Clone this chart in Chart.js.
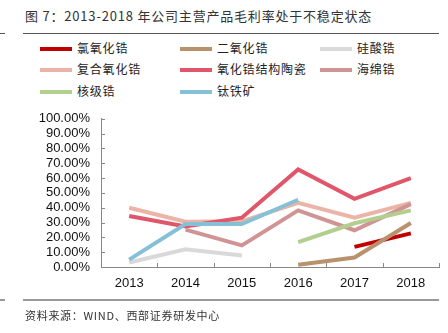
<!DOCTYPE html>
<html>
<head>
<meta charset="utf-8">
<script src="https://cdn.jsdelivr.net/npm/chart.js@4/dist/chart.umd.min.js"></script>
<style>
  html, body { margin: 0; padding: 0; background: #fff; }
  body { width: 448px; height: 333px; position: relative; overflow: hidden; font-family: "Noto Sans CJK SC", sans-serif; }
  .title { position: absolute; left: 25px; top: 6px; font-size: 13px; letter-spacing: 0.8px; color: #333; white-space: nowrap; }
  .rule { position: absolute; height: 0; }
  .lg-line { position: absolute; width: 32px; height: 4px; }
  .lg-text { position: absolute; font-size: 12px; letter-spacing: 0.8px; color: #222; white-space: nowrap; line-height: 14px; }
  .source { position: absolute; left: 25px; top: 307px; font-size: 11px; letter-spacing: 0.7px; color: #333; white-space: nowrap; }
  #wrap { position: absolute; left: 0; top: 100px; width: 448px; height: 200px; }
</style>
</head>
<body>
<div class="title">图 7：2013-2018 年公司主营产品毛利率处于不稳定状态</div>
<div class="rule" style="left:0;top:33px;width:5px;border-top:1px solid #555"></div>
<div class="rule" style="left:23px;top:33px;width:416px;border-top:1px solid #555"></div>
<div id="legend"></div>
<div id="wrap"><canvas id="c" width="448" height="200"></canvas></div>
<div class="rule" style="left:0;top:299px;width:5px;border-top:2px solid #999"></div>
<div class="rule" style="left:23px;top:299px;width:416px;border-top:2px solid #999"></div>
<div class="source">资料来源：WIND、西部证券研发中心</div>

<script>
// categories
var years = ['2013', '2014', '2015', '2016', '2017', '2018'];

// series names + colours (legend order)
var names = ['氯氧化锆', '二氧化锆', '硅酸锆', '复合氧化锆', '氧化锆结构陶瓷', '海绵锆', '核级锆', '钛铁矿'];
var colors = ['#C00000', '#B8926C', '#D9D9D9', '#EBB4A6', '#E0566A', '#D09494', '#B2CF8F', '#86C0D6'];

// gross margin, %
var zrOxychloride = [null, null, null, null, 13.6, 22.7];
var zrDioxide     = [null, null, null, 1.5, 6.4, 29.7];
var zrSilicate    = [3.0, 12.0, 7.8, null, null, null];
var compositeZr   = [40.0, 30.5, 30.8, 43.3, 33.3, 43.3];
var zrCeramics    = [34.4, 27.4, 33.3, 65.8, 46.0, 59.9];
var spongeZr      = [null, 25.2, 14.6, 38.2, 24.8, 42.4];
var nuclearZr     = [null, null, null, 16.8, 29.5, 38.2];
var ilmenite      = [5.0, 29.0, 29.0, 45.4, null, null];

var seriesData = [zrOxychloride, zrDioxide, zrSilicate, compositeZr, zrCeramics, spongeZr, nuclearZr, ilmenite];

// y ticks
var yMax = 100;
var yStep = 10;

// ---- legend (3 columns) ----
var legend = document.getElementById('legend');
var colX = [40, 180, 320];
var rowY = [49, 70, 92];
names.forEach(function (n, i) {
  var x = colX[i % 3], y = rowY[Math.floor(i / 3)];
  var ln = document.createElement('div');
  ln.className = 'lg-line';
  ln.style.left = x + 'px';
  ln.style.top = (y - 2) + 'px';
  ln.style.background = colors[i];
  legend.appendChild(ln);
  var tx = document.createElement('div');
  tx.className = 'lg-text';
  tx.style.left = (x + 37) + 'px';
  tx.style.top = (y - 8) + 'px';
  tx.textContent = n;
  legend.appendChild(tx);
});

// inward tick marks on both axes
var innerTicks = {
  id: 'innerTicks',
  afterDraw: function (chart) {
    var ctx = chart.ctx;
    var xs = chart.scales.x, ys = chart.scales.y;
    ctx.save();
    ctx.strokeStyle = '#888';
    ctx.lineWidth = 1;
    ctx.beginPath();
    var n = years.length;
    for (var i = 0; i <= n; i++) {
      var x = Math.round(xs.left + i * (xs.right - xs.left) / n) + 0.5;
      ctx.moveTo(x, ys.bottom);
      ctx.lineTo(x, ys.bottom - 4);
    }
    for (var v = 0; v <= yMax; v += yStep) {
      var y = Math.round(ys.getPixelForValue(v)) + 0.5;
      ctx.moveTo(xs.left, y);
      ctx.lineTo(xs.left + 4, y);
    }
    ctx.stroke();
    ctx.restore();
  }
};

var tickFont = { family: '"Liberation Sans", Arial, sans-serif', size: 13 };

new Chart(document.getElementById('c').getContext('2d'), {
  type: 'line',
  data: {
    labels: years,
    datasets: names.map(function (n, i) {
      return {
        label: n,
        data: seriesData[i],
        borderColor: colors[i],
        backgroundColor: colors[i],
        borderWidth: 4,
        pointRadius: 0,
        tension: 0,
        spanGaps: false,
        fill: false,
        order: names.length - i
      };
    })
  },
  options: {
    responsive: false,
    animation: false,
    layout: { padding: { left: 0, right: 9, top: 10, bottom: 0 } },
    plugins: { legend: { display: false }, tooltip: { enabled: false } },
    scales: {
      x: {
        offset: true,
        grid: { display: false, drawTicks: false, tickLength: 0, offset: true },
        border: { display: true, color: '#888', width: 1 },
        ticks: { color: '#111', font: tickFont, padding: 9, maxRotation: 0, autoSkip: false },
        afterFit: function (s) { s.height = 33; }
      },
      y: {
        min: 0,
        max: yMax,
        grid: { display: false, drawTicks: false, tickLength: 0 },
        border: { display: true, color: '#888', width: 1 },
        ticks: {
          stepSize: yStep,
          autoSkip: false,
          color: '#111',
          font: tickFont,
          padding: 11,
          callback: function (v) { return v.toFixed(2) + '%'; }
        },
        afterFit: function (s) { s.width = 101; }
      }
    }
  },
  plugins: [innerTicks]
});
</script>
</body>
</html>
